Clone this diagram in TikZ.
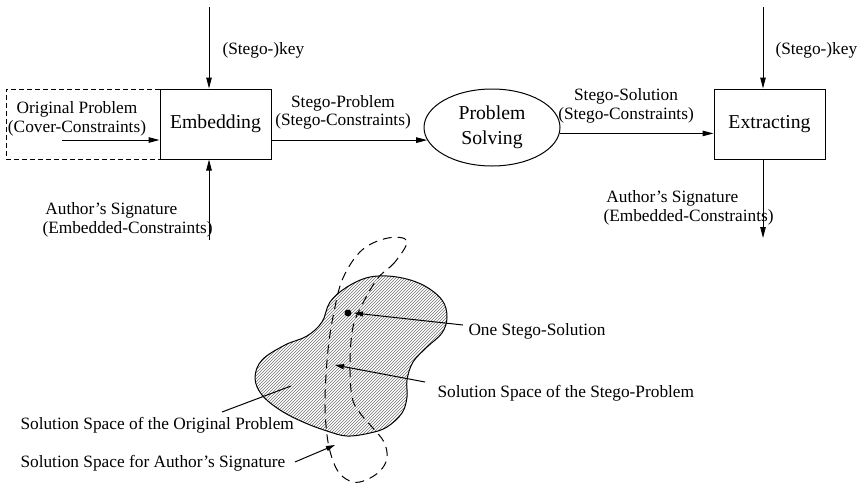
\documentclass[tikz,border=0pt]{standalone}
\usepackage{fontspec}
\setmainfont{Liberation Serif}
\usetikzlibrary{arrows.meta,patterns,shapes.geometric}
\begin{document}
\begin{tikzpicture}[x=1pt,y=-1pt,
  line width=1pt,
  lbl/.style={font=\fontsize{17.3}{18.5}\selectfont, inner sep=0pt},
  big/.style={font=\fontsize{19.7}{25.5}\selectfont},
  procbox/.style={draw, rectangle, minimum width=111pt, minimum height=70pt, inner sep=0pt, big},
  arr/.style={-{Triangle[length=11pt,width=5.5pt]}},
  sarr/.style={-{Triangle[length=9pt,width=5pt]}},
]
\useasboundingbox (0,0) rectangle (858,485);

% --- top flow ---
\node[draw,dash pattern=on 5pt off 3pt,minimum width=154pt,minimum height=70pt,inner sep=0pt] (origbox) at (83,124) {};
\node[procbox] (emb) at (215.5,124) {Embedding};
\node[lbl,align=center] (origtxt) at (77,119) {Original Problem\\(Cover-Constraints)};
\coordinate (oin) at (62,140);
\draw[arr] (oin) -- (oin -| emb.west);

\coordinate (k1) at (209,7);
\draw[arr] (k1) -- (k1 |- emb.north);
\node[lbl,anchor=west] (key1) at (222,50) {(Stego-)key};
\coordinate (s1) at (209,240);
\draw[arr] (s1) -- (s1 |- emb.south);
\node[lbl,align=left,anchor=west] (sig1) at (42,220) {\,Author's Signature\\(Embedded-Constraints)};

\node[draw,ellipse,minimum width=136pt,minimum height=77pt,inner sep=0pt,big,align=center] (ps) at (492,127.5) {Problem\\Solving};
\draw[arr] (ps.191 -| emb.east) -- (ps.191);
\node[lbl,align=center] (sptxt) at (343,112.5) {Stego-Problem\\(Stego-Constraints)};

\node[procbox] (ext) at (769.5,124) {Extracting};
\draw[arr] (ps.-5) -- (ps.-5 -| ext.west);
\node[lbl,align=center] (sstxt) at (626,106) {Stego-Solution\\(Stego-Constraints)};

\coordinate (k2) at (763,7);
\draw[arr] (k2) -- (k2 |- ext.north);
\node[lbl,anchor=west] (key2) at (775,50) {(Stego-)key};
\coordinate (o2) at (763,238);
\draw[arr] (o2 |- ext.south) -- (o2);
\node[lbl,align=left,anchor=west] (sig2) at (603,208) {\,Author's Signature\\(Embedded-Constraints)};

% --- solution spaces ---
\draw[pattern=north east lines,pattern color=black!55] plot[smooth cycle, tension=0.6] coordinates {
 (330,302) (347,287) (370,277) (397,277) (423,285) (442,300) (447,317) (442,333)
 (427,347) (413,362) (407,380) (407,397) (402,413) (387,427) (370,433) (347,436)
 (327,431) (303,422) (280,410) (262,395) (255,378) (262,360) (285,345) (307,336) (322,322)};

\draw[dash pattern=on 9pt off 6pt] plot[smooth cycle, tension=0.6] coordinates {
 (407,241) (395,262) (378,278) (363,303) (353,327) (350,363) (352,397) (360,413)
 (372,427) (384,442) (387,458) (380,471) (366,480) (353,482) (340,474) (332,458)
 (327,435) (325,400) (328,350) (334,312) (343,278) (362,250) (388,238)};

\fill (348,313) coordinate (dot) circle (3.5pt);
\coordinate (dottip) at (354,313);
\node[lbl,anchor=west] (one) at (468,331) {One Stego-Solution};
\draw[sarr] ([xshift=-5pt,yshift=6pt]one.west) -- (dottip);

\coordinate (sptip) at (335,365);
\node[lbl,anchor=west] (stp) at (437,393) {Solution Space of the Stego-Problem};
\draw[sarr] ([xshift=-12pt,yshift=11pt]stp.west) -- (sptip);

\node[lbl,anchor=west] (orp) at (20,425) {Solution Space of the Original Problem};
\coordinate (orpa) at (222,412);
\coordinate (orpb) at (291,386);
\draw (orpa) -- (orpb);

\node[lbl,anchor=west] (sas) at (20,463) {Solution Space for Author's Signature};
\coordinate (sastip) at (335,445);
\draw[sarr] ([xshift=9pt,yshift=1pt]sas.east) -- (sastip);
\end{tikzpicture}
\end{document}
